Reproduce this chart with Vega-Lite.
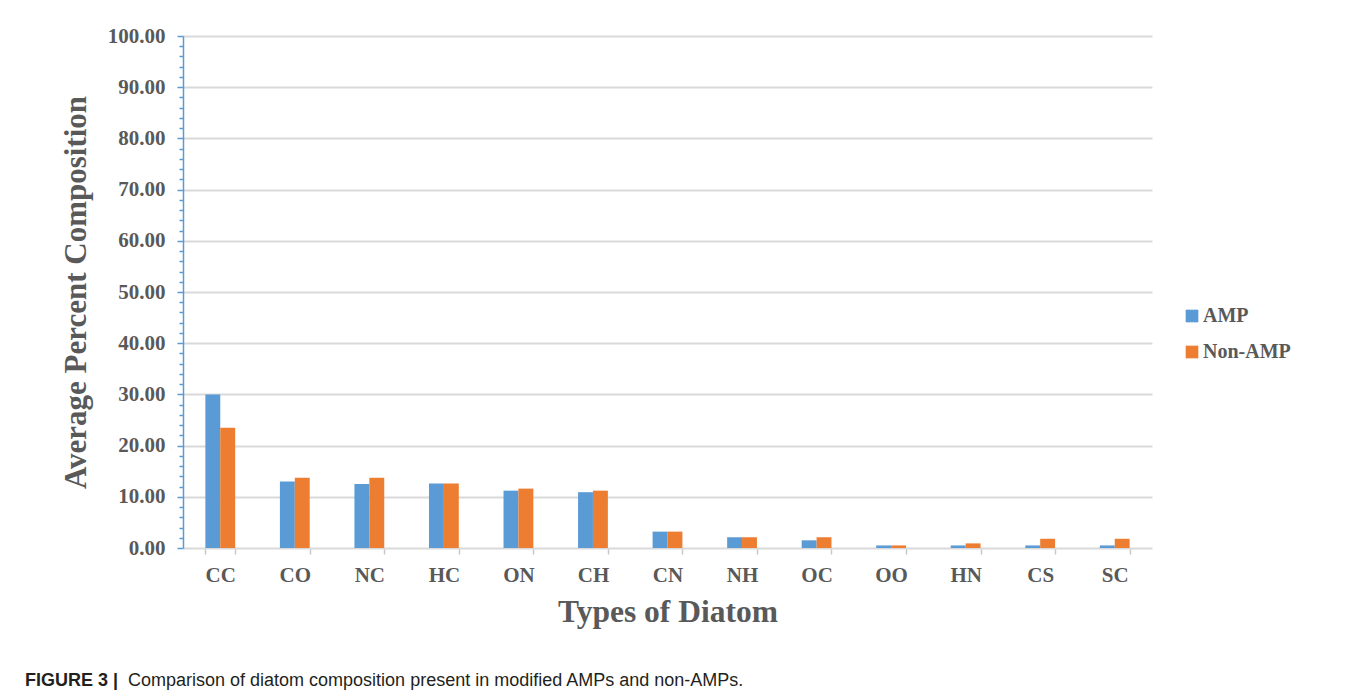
{
  "$schema": "https://vega.github.io/schema/vega-lite/v6.json",
  "padding": {"left": 25, "top": 25, "right": 0, "bottom": 5},
  "background": "white",
  "bounds": "flush",
  "config": {"view": {"stroke": null}},
  "title": {
    "text": "Comparison of diatom composition present in modified AMPs and non-AMPs.",
    "orient": "bottom",
    "anchor": "start",
    "frame": "group",
    "dx": -55,
    "dy": -18,
    "offset": 0,
    "font": "Liberation Sans",
    "fontSize": 18,
    "fontWeight": "normal",
    "color": "#231f20"
  },
  "data": {
    "values": [
      {"type": "CC", "group": "AMP", "value": 30.0},
      {"type": "CC", "group": "Non-AMP", "value": 23.5},
      {"type": "CO", "group": "AMP", "value": 13.0},
      {"type": "CO", "group": "Non-AMP", "value": 13.7},
      {"type": "NC", "group": "AMP", "value": 12.5},
      {"type": "NC", "group": "Non-AMP", "value": 13.7},
      {"type": "HC", "group": "AMP", "value": 12.6},
      {"type": "HC", "group": "Non-AMP", "value": 12.6},
      {"type": "ON", "group": "AMP", "value": 11.2},
      {"type": "ON", "group": "Non-AMP", "value": 11.6},
      {"type": "CH", "group": "AMP", "value": 10.9},
      {"type": "CH", "group": "Non-AMP", "value": 11.2},
      {"type": "CN", "group": "AMP", "value": 3.2},
      {"type": "CN", "group": "Non-AMP", "value": 3.2},
      {"type": "NH", "group": "AMP", "value": 2.1},
      {"type": "NH", "group": "Non-AMP", "value": 2.1},
      {"type": "OC", "group": "AMP", "value": 1.5},
      {"type": "OC", "group": "Non-AMP", "value": 2.1},
      {"type": "OO", "group": "AMP", "value": 0.5},
      {"type": "OO", "group": "Non-AMP", "value": 0.5},
      {"type": "HN", "group": "AMP", "value": 0.5},
      {"type": "HN", "group": "Non-AMP", "value": 0.9},
      {"type": "CS", "group": "AMP", "value": 0.5},
      {"type": "CS", "group": "Non-AMP", "value": 1.8},
      {"type": "SC", "group": "AMP", "value": 0.5},
      {"type": "SC", "group": "Non-AMP", "value": 1.8}
    ]
  },
  "vconcat": [
    {
      "width": 969,
      "height": 512,
      "title": {
        "text": "FIGURE 3 |",
        "orient": "bottom",
        "anchor": "start",
        "frame": "group",
        "dx": -158,
        "offset": 44,
        "font": "Liberation Sans",
        "fontSize": 18,
        "fontWeight": "bold",
        "color": "#231f20"
      },
      "mark": {"type": "bar"},
      "encoding": {
        "x": {
          "field": "type",
          "type": "nominal",
          "sort": null,
          "title": "Types of Diatom",
          "scale": {"paddingInner": 0.6, "paddingOuter": 0.3},
          "axis": {
            "labelFont": "Liberation Serif",
            "labelFontWeight": "bold",
            "labelFontSize": 21,
            "labelColor": "#595959",
            "labelAngle": 0,
            "labelPadding": 10,
            "domainColor": "#d9d9d9",
            "domainWidth": 2,
            "tickColor": "#c8c8c8",
            "tickSize": 6,
            "tickWidth": 1.5,
            "tickBand": "extent",
            "grid": false,
            "titleFont": "Liberation Serif",
            "titleFontSize": 31.5,
            "titleFontWeight": "bold",
            "titleColor": "#595959",
            "titlePadding": 11
          }
        },
        "xOffset": {"field": "group", "sort": ["AMP", "Non-AMP"]},
        "y": {
          "field": "value",
          "type": "quantitative",
          "title": "Average Percent Composition",
          "scale": {"domain": [0, 100], "nice": false},
          "axis": {
            "values": [0, 2, 4, 6, 8, 10, 12, 14, 16, 18, 20, 22, 24, 26, 28, 30, 32, 34, 36, 38, 40, 42, 44, 46, 48, 50, 52, 54, 56, 58, 60, 62, 64, 66, 68, 70, 72, 74, 76, 78, 80, 82, 84, 86, 88, 90, 92, 94, 96, 98, 100],
            "labelExpr": "datum.value % 10 === 0 ? format(datum.value, '.2f') : ''",
            "labelOverlap": false,
            "labelFont": "Liberation Serif",
            "labelFontWeight": "bold",
            "labelFontSize": 21,
            "labelColor": "#595959",
            "labelPadding": 12,
            "domainColor": "#5b9bd5",
            "domainWidth": 1.5,
            "tickColor": "#5b9bd5",
            "tickWidth": 1.5,
            "tickSize": {"condition": {"test": "datum.value % 10 === 0", "value": 6}, "value": 4},
            "grid": true,
            "gridColor": "#d9d9d9",
            "gridWidth": 2,
            "gridOpacity": {"condition": {"test": "datum.value % 10 === 0 && datum.value > 0", "value": 1}, "value": 0},
            "titleFont": "Liberation Serif",
            "titleFontSize": 31,
            "titleFontWeight": "bold",
            "titleColor": "#595959",
            "titlePadding": 15
          }
        },
        "color": {
          "field": "group",
          "type": "nominal",
          "scale": {"domain": ["AMP", "Non-AMP"], "range": ["#5b9bd5", "#ed7d31"]},
          "legend": {
            "orient": "none",
            "legendX": 999,
            "legendY": 270,
            "title": null,
            "symbolType": "square",
            "symbolSize": 160,
            "symbolStrokeWidth": 0,
            "labelFont": "Liberation Serif",
            "labelFontWeight": "bold",
            "labelFontSize": 20,
            "labelColor": "#595959",
            "labelOffset": 1,
            "rowPadding": 16
          }
        }
      }
    }
  ]
}
